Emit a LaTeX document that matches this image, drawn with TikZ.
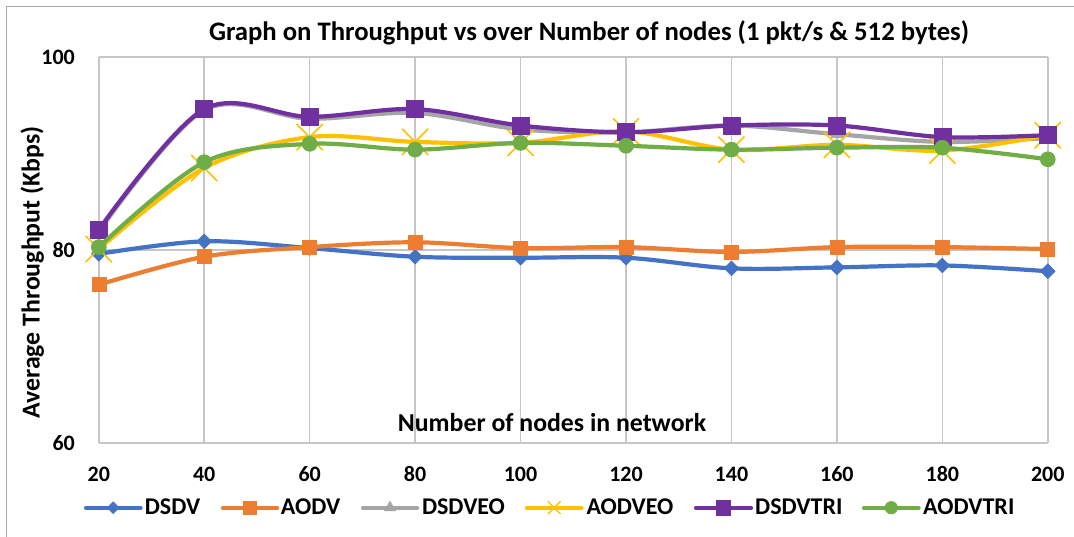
\documentclass[tikz,border=0pt]{standalone}
\usepackage{fontspec}
\setmainfont{Carlito}
\usetikzlibrary{plotmarks}
\definecolor{cDSDV}{HTML}{4472C4}
\definecolor{cAODV}{HTML}{ED7D31}
\definecolor{cDSDVEO}{HTML}{A5A5A5}
\definecolor{cAODVEO}{HTML}{FFC000}
\definecolor{cDSDVTRI}{HTML}{7030A0}
\definecolor{cAODVTRI}{HTML}{70AD47}
\definecolor{gridgray}{HTML}{C6C6C6}
\definecolor{framegray}{HTML}{A6A6A6}
\begin{document}
\begin{tikzpicture}[x=1pt,y=-1pt,
  titletext/.style={inner sep=0pt,font=\fontsize{26.7}{30}\selectfont\bfseries},
  ticktext/.style={inner sep=0pt,font=\fontsize{22}{25}\selectfont\bfseries},
  axistext/.style={inner sep=0pt,font=\fontsize{25.8}{29}\selectfont\bfseries},
  legtext/.style={inner sep=0pt,anchor=base west,font=\fontsize{24}{28}\selectfont\bfseries},
  grid line/.style={gridgray,line width=1.5pt},
  series/.style={line width=4.2pt,line join=round,line cap=round},
  curve/.style={smooth,tension=0.55},
  legline/.style={series},
]
\useasboundingbox (0,0) rectangle (1074,536);
\fill[white] (0,0) rectangle (1074,536);
% chart frame (runs off the page on the right and bottom)
\draw[framegray,line width=1.3pt] (6.5,560) -- (6.5,6.5) -- (1100,6.5);

% title
\node[titletext,anchor=base] (title) at (589,40.5)
  {Graph on Throughput vs over Number of nodes (1 pkt/s \& 512 bytes)};

% data area: x = number of nodes, y = throughput
\begin{scope}[shift={(-6.64,1022)},x=5.272pt,y=9.65pt]
  \foreach \n in {20,40,...,200} \draw[grid line] (\n,60) -- (\n,100);
  \foreach \v in {60,80,100} \draw[grid line] (20,\v) -- (200,\v);

  \draw[series,cDSDV] plot[curve,mark=square*,
      mark options={rotate=45,fill=cDSDV,line width=0.6pt},mark size=5.2pt]
    coordinates {(20,79.6) (40,80.9) (60,80.2) (80,79.3) (100,79.2)
                 (120,79.2) (140,78.1) (160,78.2) (180,78.4) (200,77.8)};
  \draw[series,cAODV] plot[curve,mark=square*,
      mark options={fill=cAODV,line width=0.6pt},mark size=7pt]
    coordinates {(20,76.4) (40,79.3) (60,80.3) (80,80.8) (100,80.2)
                 (120,80.3) (140,79.8) (160,80.3) (180,80.3) (200,80.1)};
  \draw[series,cDSDVEO] plot[curve,mark=triangle*,
      mark options={fill=cDSDVEO,line width=0.6pt},mark size=7pt]
    coordinates {(20,81.9) (40,94.5) (60,93.6) (80,94.2) (100,92.5)
                 (120,92.2) (140,92.9) (160,92.0) (180,91.2) (200,91.6)};
  \draw[series,cAODVEO] plot[curve,mark=x,
      mark options={line width=1.6pt,line cap=butt},mark size=18.5pt]
    coordinates {(20,80.1) (40,88.5) (60,91.7) (80,91.2) (100,91.1)
                 (120,92.3) (140,90.4) (160,90.9) (180,90.3) (200,91.9)};
  \draw[series,cDSDVTRI] plot[curve,mark=square*,
      mark options={fill=cDSDVTRI,line width=0.6pt},mark size=8.5pt]
    coordinates {(20,82.1) (40,94.6) (60,93.8) (80,94.6) (100,92.9)
                 (120,92.2) (140,92.9) (160,92.9) (180,91.7) (200,91.9)};
  \draw[series,cAODVTRI] plot[curve,mark=*,
      mark options={fill=cAODVTRI,line width=0.6pt},mark size=7.5pt]
    coordinates {(20,80.3) (40,89.1) (60,91.0) (80,90.4) (100,91.1)
                 (120,90.8) (140,90.4) (160,90.6) (180,90.6) (200,89.4)};
\end{scope}

% value axis labels
\node[ticktext,anchor=east] (y100) at (75,57) {100};
\node[ticktext,anchor=east] (y80) at (75,250) {80};
\node[ticktext,anchor=east] (y60) at (75,443.5) {60};

% category axis labels
\foreach \n in {20,40,...,200}
  \node[ticktext,anchor=base] (x\n) at ({98.8+(\n-20)*5.272},481.7) {\n};

% axis titles
\node[axistext,anchor=base] (xtitle) at (552,431.7) {Number of nodes in network};
\node[axistext,anchor=base,rotate=90] (ytitle) at (39.5,272.5) {Average Throughput (Kbps)};

% legend
\draw[legline,cDSDV] (86,507.7) -- (140.5,507.7);
\path plot[mark=square*,mark options={rotate=45,cDSDV,fill=cDSDV,line width=0.5pt},mark size=4.2pt]
  coordinates {(113.2,507.7)};
\node[legtext] (lDSDV) at (144.6,514.3) {DSDV};

\draw[legline,cAODV] (223,507.7) -- (277,507.7);
\path plot[mark=square*,mark options={cAODV,fill=cAODV,line width=0.5pt},mark size=6.5pt]
  coordinates {(250,507.7)};
\node[legtext] (lAODV) at (280.6,514.3) {AODV};

\draw[legline,cDSDVEO] (363,507.7) -- (417,507.7);
\path plot[mark=triangle*,mark options={cDSDVEO,fill=cDSDVEO,line width=0.5pt},mark size=6.5pt]
  coordinates {(390,507.7)};
\node[legtext] (lDSDVEO) at (421.8,514.3) {DSDVEO};

\draw[legline,cAODVEO] (527,507.7) -- (581.5,507.7);
\path plot[mark=x,mark options={cAODVEO,line width=1.4pt},mark size=9pt]
  coordinates {(554.2,507.7)};
\node[legtext] (lAODVEO) at (586.3,514.3) {AODVEO};

\draw[legline,cDSDVTRI] (696,507.7) -- (751,507.7);
\path plot[mark=square*,mark options={cDSDVTRI,fill=cDSDVTRI,line width=0.5pt},mark size=7.2pt]
  coordinates {(723.5,507.7)};
\node[legtext] (lDSDVTRI) at (755,514.3) {DSDVTRI};

\draw[legline,cAODVTRI] (864,507.7) -- (918.6,507.7);
\path plot[mark=*,mark options={cAODVTRI,fill=cAODVTRI,line width=0.5pt},mark size=6.3pt]
  coordinates {(891.3,507.7)};
\node[legtext] (lAODVTRI) at (923,514.3) {AODVTRI};
\end{tikzpicture}
\end{document}
